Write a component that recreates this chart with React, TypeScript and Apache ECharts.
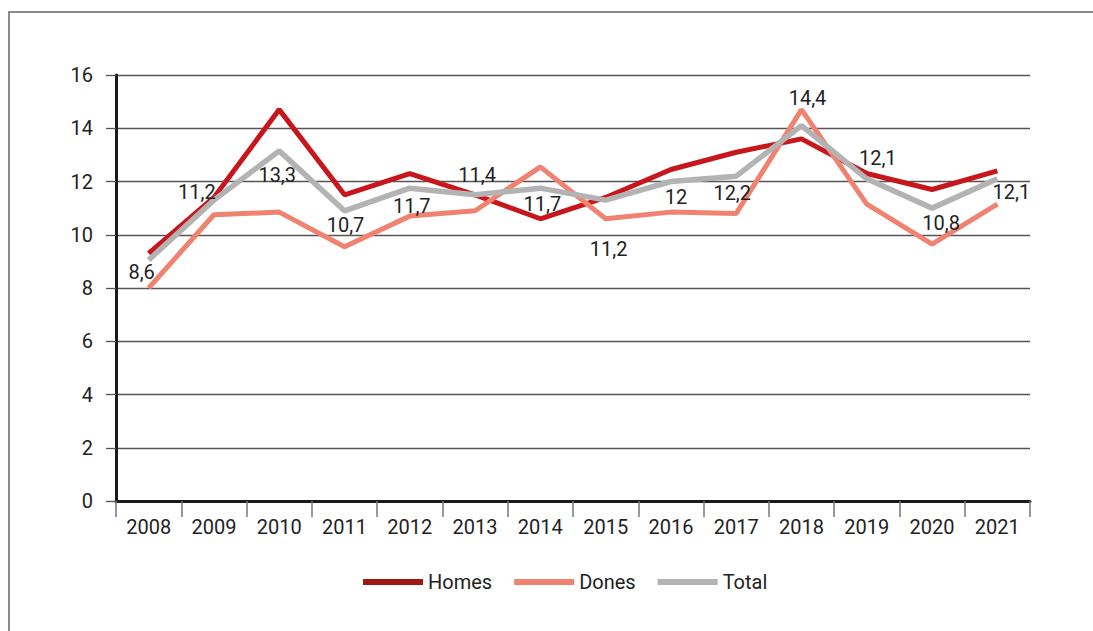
import React, { useEffect, useRef } from "react";
import * as echarts from "echarts";

const years = ["2008", "2009", "2010", "2011", "2012", "2013", "2014", "2015", "2016", "2017", "2018", "2019", "2020", "2021"];
const homes = [9.3, 11.4, 14.7, 11.5, 12.3, 11.5, 10.6, 11.4, 12.45, 13.1, 13.6, 12.3, 11.7, 12.4];
const dones = [8.0, 10.75, 10.85, 9.55, 10.7, 10.9, 12.55, 10.6, 10.85, 10.8, 14.7, 11.15, 9.65, 11.15];
const total = [9.05, 11.3, 13.15, 10.9, 11.75, 11.5, 11.75, 11.3, 12.0, 12.2, 14.1, 12.1, 11.0, 12.1];
const totalLabels = ["8,6", "11,2", "13,3", "10,7", "11,7", "11,4", "11,7", "11,2", "12", "12,2", "14,4", "12,1", "10,8", "12,1"];
const yTicks = [0, 2, 4, 6, 8, 10, 12, 14, 16];

const labelOffsets: number[][] = [
  [-7, 12], [-17, -8], [-2, 24], [1, 14], [2, 18], [2, -20], [2, 16],
  [3, 49], [5, 15], [-4, 17], [6, -28], [11, -21], [9, 15], [14, 13],
];

const FONT = "Roboto";
const FS = 20;

export default function App() {
  const ref = useRef<HTMLDivElement>(null);
  useEffect(() => {
    document.body.style.margin = "0";
    const chart = echarts.init(ref.current!, undefined, { renderer: "svg" });
    chart.setOption({
      animation: false,
      textStyle: { fontFamily: FONT },
      graphic: [
        {
          type: "rect",
          shape: { x: 9, y: 12, width: 1200, height: 800 },
          style: { fill: "none", stroke: "#666", lineWidth: 1.5 },
          z: -10,
        },
      ],
      grid: { left: 116, right: 63, top: 75, bottom: 130, containLabel: false },
      legend: {
        left: 358,
        top: 567,
        itemWidth: 60,
        itemHeight: 6,
        itemGap: 22,
        icon: "rect",
        textStyle: { fontFamily: FONT, fontSize: FS, color: "#222" },
        data: [
          { name: "Homes", itemStyle: { color: "#a31712", opacity: 1 } },
          { name: "Dones", itemStyle: { color: "#f08272", opacity: 1 } },
          { name: "Total", itemStyle: { color: "#b3b3b3", opacity: 1 } },
        ],
      },
      xAxis: {
        type: "category",
        data: years,
        boundaryGap: true,
        axisLine: { show: true, lineStyle: { color: "#1a1a1a", width: 3 } },
        axisTick: { show: true, length: 16, lineStyle: { color: "#777", width: 1.5 } },
        axisLabel: { fontFamily: FONT, fontSize: FS, color: "#222", margin: 16 },
        splitLine: { show: false },
      },
      yAxis: {
        type: "value",
        min: yTicks[0],
        max: yTicks[yTicks.length - 1],
        interval: 2,
        axisLine: { show: true, lineStyle: { color: "#1a1a1a", width: 3 } },
        axisTick: { show: true, length: 10, lineStyle: { color: "#555", width: 1.3 } },
        axisLabel: { fontFamily: FONT, fontSize: FS, color: "#222", margin: 23 },
        splitLine: { show: true, lineStyle: { color: "#555", width: 1.3 } },
      },
      series: [
        {
          name: "Homes",
          type: "line",
          data: homes,
          showSymbol: false,
          symbol: "none",
          lineStyle: { color: "#c8161d", width: 5 },
          itemStyle: { color: "#c8161d" },
          z: 2,
        },
        {
          name: "Dones",
          type: "line",
          data: dones,
          showSymbol: false,
          symbol: "none",
          lineStyle: { color: "#f08272", width: 5 },
          itemStyle: { color: "#f08272" },
          z: 3,
        },
        {
          name: "Total",
          type: "line",
          data: total.map((v, i) => ({
            value: v,
            label: { offset: labelOffsets[i] },
          })),
          showSymbol: true,
          symbol: "circle",
          symbolSize: 0.1,
          lineStyle: { color: "#b3b3b3", width: 5.5 },
          itemStyle: { color: "#b3b3b3" },
          label: {
            show: true,
            position: "inside",
            fontFamily: FONT,
            fontSize: FS,
            color: "#222",
            formatter: (p: any) => totalLabels[p.dataIndex],
          },
          z: 4,
        },
      ],
    });
    return () => chart.dispose();
  }, []);
  return <div ref={ref} style={{ width: 1093, height: 631 }} />;
}
